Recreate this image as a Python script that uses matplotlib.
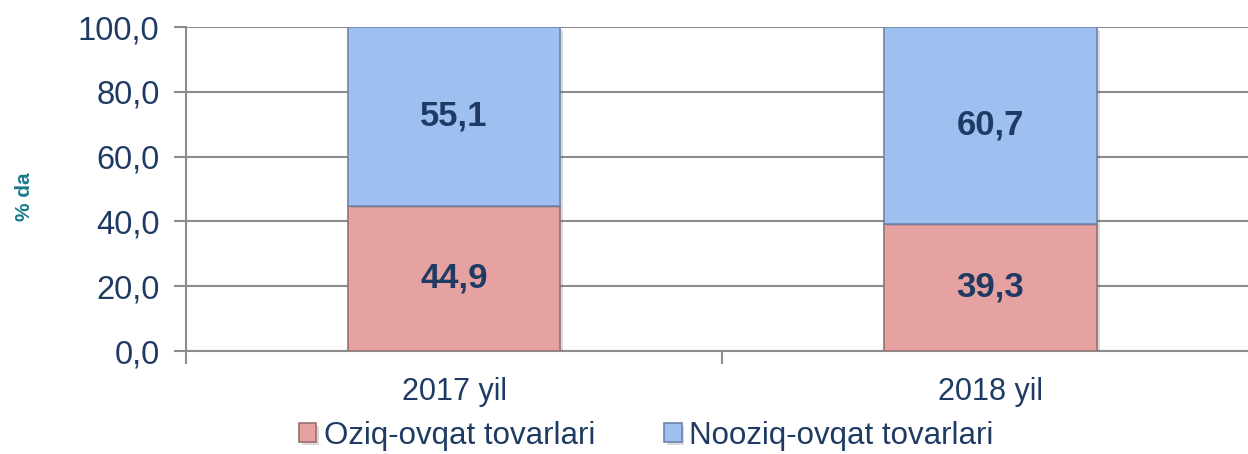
import matplotlib
matplotlib.use('Agg')
from matplotlib import pyplot as plt
import matplotlib.ticker as mtick
import matplotlib.patheffects as pe

# data
years = ['2017 yil', '2018 yil']
oziq = [44.9, 39.3]
nooziq = [55.1, 60.7]
series_names = ['Oziq-ovqat tovarlari', 'Nooziq-ovqat tovarlari']

text_color = '#1F3B63'
pink = '#E6A1A1'
blue = '#9DC0F0'
grid_gray = '#8C8C8C'

plt.rcParams['font.family'] = ['Liberation Sans', 'DejaVu Sans']

fig = plt.figure(figsize=(12.48, 4.54), dpi=100)
ax = fig.add_axes([186 / 1248, 103 / 454, 1 - 186 / 1248, 324 / 454])

x = range(len(years))
bar_width = 0.396
shadow = [pe.SimplePatchShadow(offset=(2, -2), alpha=0.18), pe.Normal()]

b1 = ax.bar(x, oziq, width=bar_width, color=pink, edgecolor='#9A7070',
            linewidth=1.2, label=series_names[0], zorder=3, path_effects=shadow)
b2 = ax.bar(x, nooziq, bottom=oziq, width=bar_width, color=blue, edgecolor='#6E84A8',
            linewidth=1.2, label=series_names[1], zorder=3, path_effects=shadow)

# value labels
for i in x:
    ax.text(i, oziq[i] / 2, f'{oziq[i]:.1f}'.replace('.', ','), ha='center', va='center',
            fontsize=25, fontweight='bold', color=text_color, zorder=4)
    ax.text(i, oziq[i] + nooziq[i] / 2, f'{nooziq[i]:.1f}'.replace('.', ','), ha='center',
            va='center', fontsize=25, fontweight='bold', color=text_color, zorder=4)

ax.set_ylim(0, 100)
ax.set_xlim(-0.5, 1.48)
ax.yaxis.set_major_locator(mtick.MultipleLocator(20))
ax.yaxis.set_major_formatter(mtick.FuncFormatter(lambda v, p: f'{v:.1f}'.replace('.', ',')))
ax.grid(axis='y', color=grid_gray, linewidth=1.5, zorder=0)
ax.tick_params(axis='y', length=9, width=1.5, color=grid_gray, labelsize=23.5,
               labelcolor=text_color, pad=10)

ax.set_xticks(list(x))
ax.set_xticklabels(years)
ax.tick_params(axis='x', which='major', length=0, labelsize=22, labelcolor=text_color, pad=19)
ax.set_xticks([-0.5, 0.5], minor=True)
ax.tick_params(axis='x', which='minor', length=9, width=1.5, color=grid_gray)

for side in ['top', 'right']:
    ax.spines[side].set_visible(False)
for side in ['left', 'bottom']:
    ax.spines[side].set_color(grid_gray)
    ax.spines[side].set_linewidth(1.5)

fig.text(24 / 1248, 1 - 197 / 454, '% da', rotation=90, ha='center', va='center',
         fontsize=15, fontweight='bold', color='#1B7A8A', fontstretch='condensed',
         family=['Liberation Sans Narrow', 'Liberation Sans', 'DejaVu Sans'])

fig.legend(handles=[b1, b2], loc='center', bbox_to_anchor=(0.518, 0.04), ncol=2,
           frameon=False, fontsize=22.5, labelcolor=text_color, handlelength=0.55,
           handleheight=0.55, handletextpad=0.25, columnspacing=2.2,
           borderpad=0.1)

fig.savefig('out.png', dpi=100)
